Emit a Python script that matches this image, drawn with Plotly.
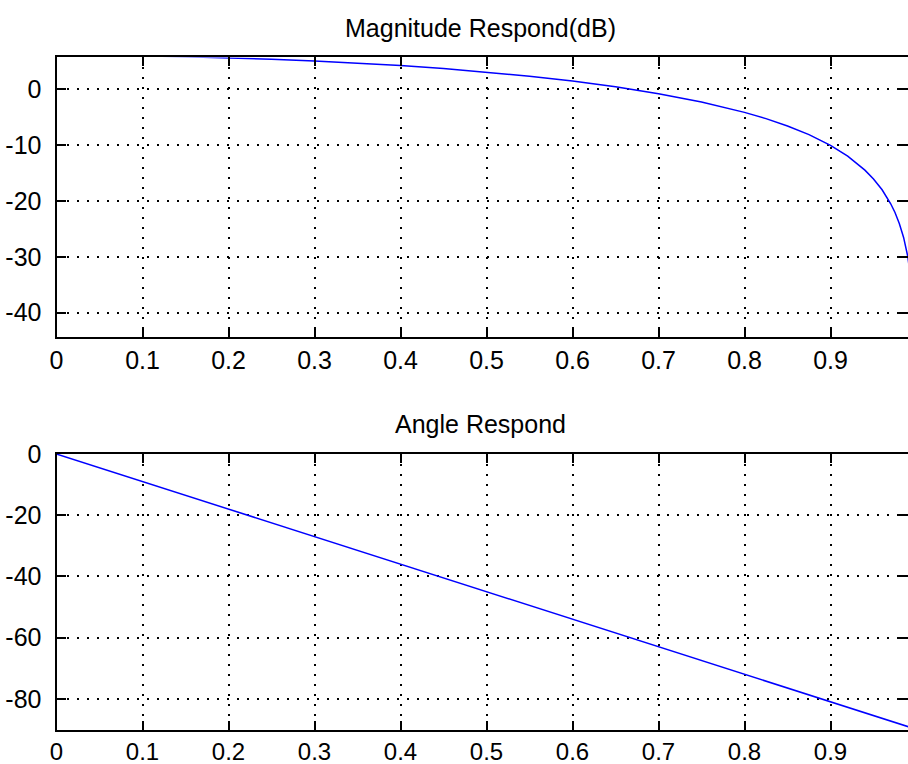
import plotly.graph_objects as go

# Normalised frequency (x) and magnitude response in dB
freq = [0.0, 0.05, 0.1, 0.15, 0.2, 0.25, 0.3, 0.35, 0.4, 0.45, 0.5, 0.55,
        0.6, 0.65, 0.7, 0.75, 0.8, 0.825, 0.85, 0.875, 0.9, 0.92, 0.94,
        0.95, 0.96, 0.97, 0.975, 0.98, 0.985, 0.99, 0.995, 0.998]
mag_db = [6.02, 5.99, 5.91, 5.78, 5.58, 5.33, 5.02, 4.64, 4.18, 3.64, 3.01,
          2.27, 1.41, 0.38, -0.84, -2.32, -4.18, -5.30, -6.62, -8.17, -10.09,
          -12.02, -14.51, -16.09, -18.02, -20.52, -22.08, -24.04, -26.54,
          -30.06, -36.08, -44.04]

# Phase response in degrees
phase_x = [0.0, 0.1, 0.2, 0.3, 0.4, 0.5, 0.6, 0.7, 0.8, 0.9, 0.998]
phase_deg = [0.0, -9.0, -18.0, -27.0, -36.0, -45.0, -54.0, -63.0, -72.0,
             -81.0, -89.8]

x_ticks = [0, 0.1, 0.2, 0.3, 0.4, 0.5, 0.6, 0.7, 0.8, 0.9]
x_tick_labels = ["0", "0.1", "0.2", "0.3", "0.4", "0.5", "0.6", "0.7", "0.8", "0.9"]
mag_ticks = [0, -10, -20, -30, -40]
mag_tick_labels = ["0", "-10", "-20", "-30", "-40"]
phase_ticks = [0, -20, -40, -60, -80]
phase_tick_labels = ["0", "-20", "-40", "-60", "-80"]

titles = ["Magnitude Respond(dB)", "Angle Respond"]

W, H = 908, 764
FONT = dict(family="Liberation Sans, Arial, sans-serif", size=25, color="black")
FONT_SMALL = dict(family="Liberation Sans, Arial, sans-serif", size=24, color="black")

fig = go.Figure()
fig.add_trace(go.Scatter(x=freq, y=mag_db, mode="lines",
                         line=dict(color="#0000FF", width=1.5),
                         xaxis="x", yaxis="y", showlegend=False))
fig.add_trace(go.Scatter(x=phase_x, y=phase_deg, mode="lines",
                         line=dict(color="#0000FF", width=1.5),
                         xaxis="x2", yaxis="y2", showlegend=False))

common = dict(showline=True, linecolor="black", linewidth=2, mirror="ticks",
              ticks="inside", ticklen=9, tickwidth=1.5, tickcolor="black",
              showgrid=True, gridcolor="black", gridwidth=1.5,
              griddash="2px,8px", zeroline=False, automargin=False)

xdom = [56.5 / W, 1.0]
xrng = [0, (W - 56.5) / 860.0]

fig.update_layout(
    width=W, height=H, autosize=False,
    margin=dict(l=0, r=0, t=0, b=0, pad=0, autoexpand=False),
    paper_bgcolor="white", plot_bgcolor="white",
    font=FONT,
    xaxis=dict(domain=xdom, range=xrng, anchor="y", tickvals=x_ticks,
               ticktext=x_tick_labels, ticklabelstandoff=0, tickfont=FONT,
               **common),
    yaxis=dict(domain=[0.5585, 0.9249], range=[-44.4, 5.65], anchor="x",
               tickvals=mag_ticks, ticktext=mag_tick_labels,
               ticklabelstandoff=8, tickfont=FONT, **common),
    xaxis2=dict(domain=xdom, range=xrng, anchor="y2", tickvals=x_ticks,
                ticktext=x_tick_labels, ticklabelstandoff=0, tickfont=FONT_SMALL,
                **common),
    yaxis2=dict(domain=[0.0449, 0.4057], range=[-90.1, 0], anchor="x2",
                tickvals=phase_ticks, ticktext=phase_tick_labels,
                ticklabelstandoff=8, tickfont=FONT, **common),
    annotations=[
        dict(text=titles[0], x=480 / W, y=1 - 28 / H, xref="paper", yref="paper",
             xanchor="center", yanchor="middle", showarrow=False, font=FONT),
        dict(text=titles[1], x=481 / W, y=1 - 424 / H, xref="paper", yref="paper",
             xanchor="center", yanchor="middle", showarrow=False, font=FONT),
    ],
)

fig.write_html("out.html")
